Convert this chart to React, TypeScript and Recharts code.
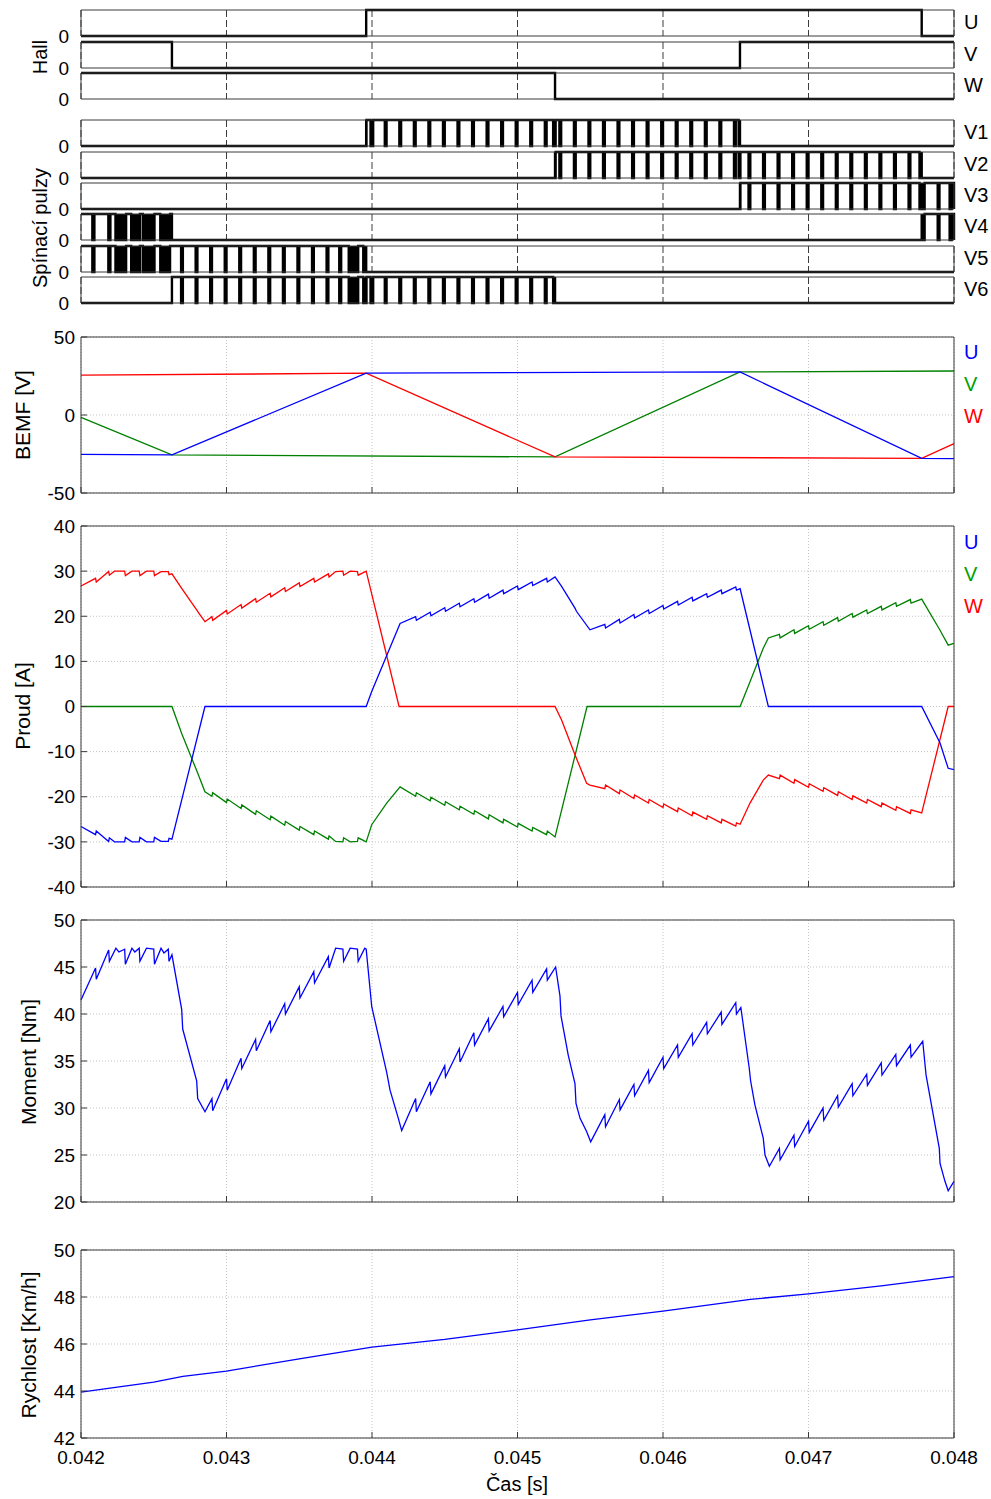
import {
    LineChart,
    Line,
    XAxis,
    YAxis,
    CartesianGrid,
    ReferenceArea
} from "recharts";

type Pt = [number, number];

const xTicks = [0.042, 0.043, 0.044, 0.045, 0.046, 0.047, 0.048];
const xDomain: [number, number] = [0.042, 0.048];

// Hall sensors: [time, level] at each edge
const hallU: Pt[] = [[0.042, 0], [0.04396, 1], [0.047778, 0]];
const hallV: Pt[] = [[0.042, 1], [0.042625, 0], [0.046529, 1]];
const hallW: Pt[] = [[0.042, 1], [0.045258, 0]];

// windows in which each transistor is switched (PWM)
const onV1: Pt[] = [[0.04396, 0.046529]];
const onV2: Pt[] = [[0.045258, 0.047778]];
const onV3: Pt[] = [[0.046529, 0.048]];
const onV4: Pt[] = [[0.042, 0.042625], [0.047778, 0.048]];
const onV5: Pt[] = [[0.042, 0.04396]];
const onV6: Pt[] = [[0.042625, 0.045258]];

// off pulses of the chopper [start, end]
const pwmOff: Pt[] = [
    [0.042078, 0.042092], [0.042188, 0.042202], [0.042237, 0.04231], [0.042345, 0.042405],
    [0.042425, 0.042505], [0.042545, 0.042612],
    [0.042688, 0.0427], [0.042788, 0.0428], [0.042888, 0.0429], [0.042988, 0.043],
    [0.043088, 0.0431], [0.043188, 0.0432], [0.043288, 0.0433], [0.043388, 0.0434],
    [0.043488, 0.0435], [0.043588, 0.0436], [0.043688, 0.0437], [0.043775, 0.043788],
    [0.04384, 0.043905], [0.04394, 0.043962], [0.04399, 0.044008],
    [0.044088, 0.0441], [0.044188, 0.0442], [0.044288, 0.0443], [0.044388, 0.0444],
    [0.044488, 0.0445], [0.044588, 0.0446], [0.044688, 0.0447], [0.044788, 0.0448],
    [0.044888, 0.0449], [0.044988, 0.045], [0.045088, 0.0451], [0.045188, 0.0452],
    [0.045245, 0.045262],
    [0.045288, 0.0453], [0.045388, 0.0454], [0.045488, 0.0455], [0.045588, 0.0456],
    [0.045688, 0.0457], [0.045788, 0.0458], [0.045888, 0.0459], [0.045988, 0.046],
    [0.046088, 0.0461], [0.046188, 0.0462], [0.046288, 0.0463], [0.046388, 0.0464],
    [0.046488, 0.0465], [0.04652, 0.046532],
    [0.046588, 0.0466], [0.046688, 0.0467], [0.046788, 0.0468], [0.046888, 0.0469],
    [0.046988, 0.047], [0.047088, 0.0471], [0.047188, 0.0472], [0.047288, 0.0473],
    [0.047388, 0.0474], [0.047488, 0.0475], [0.047588, 0.0476], [0.047688, 0.0477],
    [0.047763, 0.047798], [0.047888, 0.0479], [0.04797, 0.047984]
];

// BEMF [V]
const bemfU: Pt[] = [[0.042, -25.2], [0.042625, -25.6], [0.04396, 26.8], [0.046529, 27.6], [0.047778, -27.8], [0.048, -28.0]];
const bemfV: Pt[] = [[0.042, -1.5], [0.042625, -25.6], [0.045258, -26.9], [0.046529, 27.6], [0.048, 28.2]];
const bemfW: Pt[] = [[0.042, 25.5], [0.04396, 26.8], [0.045258, -26.9], [0.047778, -27.8], [0.048, -18.4]];

// phase currents [A]
const curU: Pt[] = [
    [0.042, -26.6], [0.0421, -28.4], [0.042105, -27.6], [0.04219, -29.9], [0.042195, -29.1],
    [0.04223, -30.0], [0.0423, -30.0], [0.042305, -29.0], [0.04235, -30.0], [0.0424, -30.0],
    [0.042405, -29.0], [0.04245, -30.0], [0.0425, -30.0], [0.042505, -29.0], [0.04255, -29.9],
    [0.0426, -29.9], [0.042605, -29.2], [0.042625, -29.4],
    [0.042852, 0], [0.04396, 0], [0.043998, 3.3], [0.044193, 18.4],
    [0.0443, 19.9], [0.044305, 19.1], [0.0444, 20.9], [0.044405, 20.1], [0.0445, 21.9], [0.044505, 21.1],
    [0.0446, 22.9], [0.044605, 22.1], [0.0447, 23.9], [0.044705, 23.1], [0.0448, 24.9], [0.044805, 24.0],
    [0.0449, 25.8], [0.044905, 25.0], [0.045, 26.7], [0.045005, 25.9], [0.0451, 27.6], [0.045105, 26.8],
    [0.0452, 28.4], [0.045205, 27.6], [0.045258, 28.7],
    [0.045303, 26.6], [0.045395, 21.8], [0.045405, 21.1], [0.045498, 17.0],
    [0.0456, 18.2], [0.045605, 17.4], [0.0457, 19.3], [0.045705, 18.5], [0.0458, 20.4], [0.045805, 19.6],
    [0.0459, 21.4], [0.045905, 20.6], [0.046, 22.4], [0.046005, 21.6], [0.0461, 23.3], [0.046105, 22.5],
    [0.0462, 24.2], [0.046205, 23.4], [0.0463, 25.0], [0.046305, 24.2], [0.0464, 25.8], [0.046405, 25.0],
    [0.0465, 26.5], [0.046505, 25.8], [0.04653, 26.1],
    [0.046724, 0], [0.047778, 0], [0.047904, -8.1], [0.04796, -13.7], [0.048, -14.0]
];
const curV: Pt[] = [
    [0.042, 0], [0.042625, 0], [0.042692, -6.0], [0.042795, -14.2], [0.042852, -18.9],
    [0.0429, -19.9], [0.042905, -19.1], [0.043, -21.3], [0.043005, -20.5], [0.0431, -22.6], [0.043105, -21.8],
    [0.0432, -23.9], [0.043205, -23.1], [0.0433, -25.1], [0.043305, -24.3], [0.0434, -26.3], [0.043405, -25.5],
    [0.0435, -27.4], [0.043505, -26.6], [0.0436, -28.4], [0.043605, -27.6], [0.0437, -29.4], [0.043705, -28.7],
    [0.04375, -29.9], [0.0438, -30.0], [0.043805, -29.1], [0.04385, -30.0], [0.0439, -29.9], [0.043905, -29.1],
    [0.04396, -30.0],
    [0.043998, -26.2], [0.044101, -21.4], [0.044193, -17.8],
    [0.0443, -19.9], [0.044305, -19.1], [0.0444, -20.9], [0.044405, -20.1], [0.0445, -21.9], [0.044505, -21.1],
    [0.0446, -22.9], [0.044605, -22.1], [0.0447, -23.9], [0.044705, -23.1], [0.0448, -24.9], [0.044805, -24.0],
    [0.0449, -25.8], [0.044905, -25.0], [0.045, -26.7], [0.045005, -25.9], [0.0451, -27.6], [0.045105, -26.8],
    [0.0452, -28.4], [0.045205, -27.6], [0.045258, -28.9],
    [0.045478, 0], [0.04653, 0], [0.046598, 5.5], [0.046689, 12.9], [0.046724, 15.2],
    [0.0468, 16.0], [0.046805, 15.2], [0.0469, 17.0], [0.046905, 16.2], [0.047, 17.9], [0.047005, 17.1],
    [0.0471, 18.8], [0.047105, 18.0], [0.0472, 19.7], [0.047205, 18.9], [0.0473, 20.6], [0.047305, 19.8],
    [0.0474, 21.4], [0.047405, 20.6], [0.0475, 22.2], [0.047505, 21.4], [0.0476, 23.0], [0.047605, 22.2],
    [0.0477, 23.7], [0.047705, 22.9], [0.047778, 23.8],
    [0.047904, 16.9], [0.04796, 13.6], [0.048, 14.0]
];
const curW: Pt[] = [
    [0.042, 26.7], [0.0421, 28.4], [0.042105, 27.6], [0.04219, 29.9], [0.042195, 29.1],
    [0.04223, 30.0], [0.0423, 30.0], [0.042305, 29.0], [0.04235, 30.0], [0.0424, 30.0],
    [0.042405, 29.0], [0.04245, 30.0], [0.0425, 30.0], [0.042505, 29.0], [0.04255, 29.9],
    [0.0426, 29.9], [0.042605, 29.2], [0.042625, 29.4],
    [0.042692, 26.2], [0.042795, 21.4], [0.042812, 20.6], [0.042852, 18.8],
    [0.0429, 19.9], [0.042905, 19.1], [0.043, 21.3], [0.043005, 20.5], [0.0431, 22.6], [0.043105, 21.8],
    [0.0432, 23.9], [0.043205, 23.1], [0.0433, 25.1], [0.043305, 24.3], [0.0434, 26.3], [0.043405, 25.5],
    [0.0435, 27.4], [0.043505, 26.6], [0.0436, 28.4], [0.043605, 27.6], [0.0437, 29.4], [0.043705, 28.7],
    [0.04375, 29.9], [0.0438, 30.0], [0.043805, 29.1], [0.04385, 30.0], [0.0439, 29.9], [0.043905, 29.1],
    [0.04396, 30.0],
    [0.044186, 0], [0.045258, 0], [0.045303, -3.0], [0.045395, -10.7], [0.045475, -17.0], [0.045498, -17.4],
    [0.0456, -18.2], [0.045605, -17.4], [0.0457, -19.3], [0.045705, -18.5], [0.0458, -20.4], [0.045805, -19.6],
    [0.0459, -21.4], [0.045905, -20.6], [0.046, -22.4], [0.046005, -21.6], [0.0461, -23.3], [0.046105, -22.5],
    [0.0462, -24.2], [0.046205, -23.4], [0.0463, -25.0], [0.046305, -24.2], [0.0464, -25.8], [0.046405, -25.0],
    [0.0465, -26.5], [0.046505, -25.8], [0.04653, -26.1],
    [0.046598, -21.4], [0.046689, -16.3], [0.046724, -15.2],
    [0.0468, -16.0], [0.046805, -15.2], [0.0469, -17.0], [0.046905, -16.2], [0.047, -17.9], [0.047005, -17.1],
    [0.0471, -18.8], [0.047105, -18.0], [0.0472, -19.7], [0.047205, -18.9], [0.0473, -20.6], [0.047305, -19.8],
    [0.0474, -21.4], [0.047405, -20.6], [0.0475, -22.2], [0.047505, -21.4], [0.0476, -23.0], [0.047605, -22.2],
    [0.0477, -23.7], [0.047705, -22.9], [0.047778, -23.6],
    [0.04796, 0], [0.048, 0]
];

// torque [Nm]
const moment: Pt[] = [
    [0.042, 41.5], [0.0421, 44.9], [0.042105, 43.7], [0.04219, 46.8], [0.042195, 45.6], [0.04224, 47.0],
    [0.04226, 46.6], [0.0423, 46.9], [0.042305, 45.3], [0.04235, 47.0], [0.04237, 46.6], [0.0424, 47.0],
    [0.042405, 45.6], [0.04245, 47.0], [0.0425, 46.9], [0.042505, 45.3], [0.04255, 47.0], [0.04257, 46.5],
    [0.0426, 46.9], [0.042605, 45.6], [0.042625, 46.3],
    [0.042692, 40.5], [0.042699, 38.4], [0.042795, 32.9], [0.042802, 31.0], [0.042852, 29.6],
    [0.0429, 31.0], [0.042905, 29.7], [0.043, 33.1], [0.043005, 31.9], [0.0431, 35.3], [0.043105, 34.2],
    [0.0432, 37.3], [0.043205, 36.1], [0.0433, 39.3], [0.043305, 38.1], [0.0434, 41.1], [0.043405, 40.0],
    [0.0435, 42.9], [0.043505, 41.7], [0.0436, 44.5], [0.043605, 43.3], [0.0437, 46.1], [0.043705, 44.9],
    [0.04375, 47.0], [0.0438, 46.9], [0.043805, 45.6], [0.04385, 47.0], [0.0439, 46.9], [0.043905, 45.6],
    [0.04395, 47.0], [0.04396, 46.9],
    [0.043998, 40.8], [0.044101, 33.8], [0.044124, 31.9], [0.044181, 28.9], [0.044204, 27.6],
    [0.0443, 31.0], [0.044305, 29.6], [0.0444, 32.8], [0.044405, 31.5], [0.0445, 34.5], [0.044505, 33.3],
    [0.0446, 36.3], [0.044605, 34.9], [0.0447, 38.0], [0.044705, 36.7], [0.0448, 39.5], [0.044805, 38.2],
    [0.0449, 40.8], [0.044905, 39.7], [0.045, 42.3], [0.045005, 41.0], [0.0451, 43.6], [0.045105, 42.3],
    [0.0452, 44.8], [0.045205, 43.6], [0.045262, 45.0],
    [0.045292, 41.9], [0.045299, 39.8], [0.045349, 35.6], [0.045395, 32.6], [0.045402, 30.5],
    [0.04543, 28.9], [0.045475, 27.5], [0.045503, 26.4],
    [0.0456, 29.3], [0.045605, 28.0], [0.0457, 30.9], [0.045705, 29.8], [0.0458, 32.5], [0.045805, 31.3],
    [0.0459, 34.0], [0.045905, 32.7], [0.046, 35.4], [0.046005, 34.2], [0.0461, 36.7], [0.046105, 35.4],
    [0.0462, 37.9], [0.046205, 36.7], [0.0463, 39.1], [0.046305, 37.9], [0.0464, 40.2], [0.046405, 38.9],
    [0.0465, 41.2], [0.046505, 40.0], [0.046535, 40.7],
    [0.046593, 34.2], [0.046602, 32.9], [0.046632, 30.3], [0.046689, 26.8], [0.046701, 25.0], [0.046731, 23.8],
    [0.0468, 25.7], [0.046805, 24.5], [0.0469, 27.1], [0.046905, 25.9], [0.047, 28.6], [0.047005, 27.4],
    [0.0471, 30.0], [0.047105, 28.7], [0.0472, 31.3], [0.047205, 30.1], [0.0473, 32.6], [0.047305, 31.3],
    [0.0474, 33.6], [0.047405, 32.4], [0.0475, 34.8], [0.047505, 33.5], [0.0476, 35.7], [0.047605, 34.5],
    [0.0477, 36.7], [0.047705, 35.4], [0.047785, 37.1],
    [0.047808, 33.5], [0.047899, 25.7], [0.047904, 24.1], [0.047938, 22.2], [0.04796, 21.2], [0.048, 22.2]
];

// speed [km/h]
const rychlost: Pt[] = [
    [0.042, 43.95], [0.0425, 44.38], [0.0427, 44.62], [0.043, 44.85], [0.0435, 45.37], [0.044, 45.87],
    [0.0445, 46.2], [0.045, 46.6], [0.0455, 47.03], [0.046, 47.4], [0.0466, 47.9], [0.047, 48.13],
    [0.0475, 48.47], [0.048, 48.87]
];

const W = 991;
const PAD = 14;
const ROW_H = 26;
const AXIS = "#3a3a3a";
const FONT = '"Liberation Sans", Arial, Helvetica, sans-serif';
const BLUE = "#0000ff";
const GREEN = "#008000";
const RED = "#ff0000";

// keeps ticks (grid + tick marks) but draws no label
const noTick = () => <g />;

const toPts = (rows: Pt[]) => rows.map(([t, v]) => ({ t, v }));

function hallSteps(edges: Pt[]) {
    const pts = toPts(edges);
    pts.push({ t: 0.048, v: edges[edges.length - 1][1] });
    return pts;
}

// off pulses that fall inside the switching windows
function barsIn(windows: Pt[]): Pt[] {
    const out: Pt[] = [];
    windows.forEach(([a, b]) => {
        pwmOff.forEach(([s, e]) => {
            if (e > a && s < b) out.push([Math.max(s, a), Math.min(e, b)]);
        });
    });
    return out;
}

function pulseSteps(windows: Pt[]) {
    const pts: { t: number; v: number }[] = [];
    if (windows[0][0] > 0.042) pts.push({ t: 0.042, v: 0 });
    windows.forEach(([a, b]) => {
        pts.push({ t: a, v: 1 });
        barsIn([[a, b]]).forEach(([s, e]) => {
            pts.push({ t: s, v: 0 });
            pts.push({ t: e, v: 1 });
        });
        pts.push({ t: b, v: 0 });
    });
    if (pts[pts.length - 1].t < 0.048) pts.push({ t: 0.048, v: pts[pts.length - 1].v });
    return pts;
}

function DigitalRow({ top, windows, edges }: { top: number; windows?: Pt[]; edges?: Pt[] }) {
    const h = ROW_H + 2 * PAD;
    const data = edges ? hallSteps(edges) : pulseSteps(windows!);
    const bars = windows ? barsIn(windows) : [];
    return (
        <div style={{ position: "absolute", left: 0, top: top - PAD, width: W, height: h }}>
            <LineChart width={W} height={h} margin={{ top: PAD - 1, right: 0, bottom: PAD - 1, left: 0 }}>
                <CartesianGrid horizontal={false} stroke="#3c3c3c" strokeDasharray="7 3" />
                <XAxis dataKey="t" type="number" domain={xDomain} ticks={xTicks} height={1}
                    tick={noTick} tickLine={false} axisLine={{ stroke: AXIS }} />
                <XAxis xAxisId="top" dataKey="t" orientation="top" type="number" domain={xDomain} ticks={xTicks}
                    height={1} tick={noTick} tickLine={false} axisLine={{ stroke: AXIS }} />
                <YAxis type="number" domain={[0, 1]} ticks={[0]} width={81} tickLine={false} tickMargin={6}
                    axisLine={{ stroke: AXIS }} tick={{ fill: "#000", fontSize: 19, fontFamily: FONT }} />
                <YAxis yAxisId="r" orientation="right" type="number" domain={[0, 1]} ticks={[0]} width={37}
                    tick={noTick} tickLine={false} axisLine={{ stroke: AXIS }} />
                {bars.map(([a, b], i) => (
                    <ReferenceArea key={i} x1={a} x2={b} y1={0} y2={1} fill="#000" fillOpacity={1} stroke="none" />
                ))}
                <Line data={data} dataKey="v" type="stepAfter" stroke="#000" strokeWidth={2.4}
                    dot={false} isAnimationActive={false} />
            </LineChart>
        </div>
    );
}

interface Series { rows: Pt[]; color: string }

function AnalogPanel({ top, height, domain, ticks, series, last }: {
    top: number; height: number; domain: [number, number]; ticks: number[]; series: Series[]; last?: boolean;
}) {
    const axisH = last ? 50 : 1;
    const h = height + 2 * PAD + (last ? 50 : 0);
    const tickFont = { fill: "#000", fontSize: 19, fontFamily: FONT };
    return (
        <div style={{ position: "absolute", left: 0, top: top - PAD, width: W, height: h }}>
            <LineChart width={W} height={h}
                margin={{ top: PAD - 1, right: 0, bottom: last ? PAD : PAD - 1, left: 0 }}>
                <CartesianGrid stroke="#c4c4c4" strokeDasharray="1 2" />
                <XAxis dataKey="t" type="number" domain={xDomain} ticks={xTicks} height={axisH}
                    tickSize={-6} tickMargin={19} tick={last ? tickFont : noTick}
                    tickFormatter={(v: number) => v.toFixed(3)}
                    axisLine={{ stroke: AXIS }} tickLine={{ stroke: AXIS }} />
                <XAxis xAxisId="top" dataKey="t" orientation="top" type="number" domain={xDomain} ticks={xTicks}
                    height={1} tickSize={-6} tick={noTick} axisLine={{ stroke: AXIS }} tickLine={{ stroke: AXIS }} />
                <YAxis type="number" domain={domain} ticks={ticks} width={81} tickSize={-6} tickMargin={12}
                    axisLine={{ stroke: AXIS }} tickLine={{ stroke: AXIS }} tick={tickFont} />
                <YAxis yAxisId="r" orientation="right" type="number" domain={domain} ticks={ticks} width={37}
                    tickSize={-6} tick={noTick} axisLine={{ stroke: AXIS }} tickLine={{ stroke: AXIS }} />
                {series.map((s, i) => (
                    <Line key={i} data={toPts(s.rows)} dataKey="v" type="linear" stroke={s.color}
                        strokeWidth={1.3} dot={false} isAnimationActive={false} />
                ))}
            </LineChart>
        </div>
    );
}

function Txt({ x, y, children, color = "#000", size = 20, rotate, center }: {
    x: number; y: number; children: string; color?: string; size?: number; rotate?: boolean; center?: boolean;
}) {
    const transform = rotate
        ? "translate(-50%, -50%) rotate(-90deg)"
        : center ? "translate(-50%, -50%)" : "translate(0, -50%)";
    return (
        <div style={{
            position: "absolute", left: x, top: y, transform, color, fontSize: size,
            fontFamily: FONT, whiteSpace: "nowrap", lineHeight: 1
        }}>{children}</div>
    );
}

export default function App() {
    const switchRows: [string, Pt[], number][] = [
        ["V1", onV1, 120], ["V2", onV2, 152], ["V3", onV3, 183],
        ["V4", onV4, 214], ["V5", onV5, 246], ["V6", onV6, 277]
    ];
    const hallRows: [string, Pt[], number][] = [["U", hallU, 10], ["V", hallV, 42], ["W", hallW, 73]];
    return (
        <div style={{ position: "absolute", left: 0, top: 0, width: W, height: 1499, background: "#fff" }}>
            {hallRows.map(([name, e, top]) => (
                <DigitalRow key={name} top={top} edges={e} />
            ))}
            {switchRows.map(([name, w, top]) => (
                <DigitalRow key={name} top={top} windows={w} />
            ))}
            <AnalogPanel top={337} height={156} domain={[-50, 50]} ticks={[-50, 0, 50]}
                series={[{ rows: bemfV, color: GREEN }, { rows: bemfW, color: RED }, { rows: bemfU, color: BLUE }]} />
            <AnalogPanel top={526} height={361} domain={[-40, 40]} ticks={[-40, -30, -20, -10, 0, 10, 20, 30, 40]}
                series={[{ rows: curV, color: GREEN }, { rows: curW, color: RED }, { rows: curU, color: BLUE }]} />
            <AnalogPanel top={920} height={282} domain={[20, 50]} ticks={[20, 25, 30, 35, 40, 45, 50]}
                series={[{ rows: moment, color: BLUE }]} />
            <AnalogPanel top={1250} height={188} domain={[42, 50]} ticks={[42, 44, 46, 48, 50]}
                series={[{ rows: rychlost, color: BLUE }]} last />

            {hallRows.map(([name, , top]) => <Txt key={name} x={964} y={top + 12}>{name}</Txt>)}
            {switchRows.map(([name, , top]) => <Txt key={name} x={964} y={top + 12}>{name}</Txt>)}
            <Txt x={964} y={352} color={BLUE}>U</Txt>
            <Txt x={964} y={384} color="#00a000">V</Txt>
            <Txt x={964} y={416} color={RED}>W</Txt>
            <Txt x={964} y={542} color={BLUE}>U</Txt>
            <Txt x={964} y={574} color="#00a000">V</Txt>
            <Txt x={964} y={606} color={RED}>W</Txt>

            <Txt x={40} y={57} rotate size={20}>Hall</Txt>
            <Txt x={40} y={228} rotate size={20}>Spínací pulzy</Txt>
            <Txt x={22} y={415} rotate size={21}>BEMF [V]</Txt>
            <Txt x={22} y={706} rotate size={21}>Proud [A]</Txt>
            <Txt x={28} y={1062} rotate size={21}>Moment [Nm]</Txt>
            <Txt x={28} y={1345} rotate size={21}>Rychlost [Km/h]</Txt>
            <Txt x={517} y={1484} center size={20}>Čas [s]</Txt>
        </div>
    );
}
